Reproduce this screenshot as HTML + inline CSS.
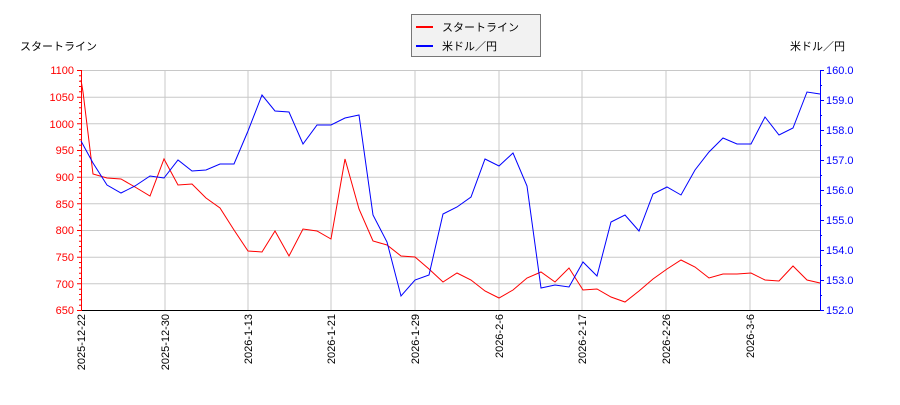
<!DOCTYPE html>
<html><head><meta charset="utf-8"><style>
body{margin:0;background:#fff}
text{font-family:"Liberation Sans","Noto Sans CJK JP",sans-serif;font-size:11px}
</style></head><body>
<svg width="900" height="400" xmlns="http://www.w3.org/2000/svg">
<rect width="900" height="400" fill="#fff"/>
<g stroke="#c8c8c8" stroke-width="1">
<line x1="81" y1="70.5" x2="820" y2="70.5"/><line x1="81" y1="97.2" x2="820" y2="97.2"/><line x1="81" y1="123.8" x2="820" y2="123.8"/><line x1="81" y1="150.5" x2="820" y2="150.5"/><line x1="81" y1="177.2" x2="820" y2="177.2"/><line x1="81" y1="203.8" x2="820" y2="203.8"/><line x1="81" y1="230.5" x2="820" y2="230.5"/><line x1="81" y1="257.2" x2="820" y2="257.2"/><line x1="81" y1="283.8" x2="820" y2="283.8"/>
<line x1="165" y1="70" x2="165" y2="310"/><line x1="248" y1="70" x2="248" y2="310"/><line x1="331" y1="70" x2="331" y2="310"/><line x1="415" y1="70" x2="415" y2="310"/><line x1="499" y1="70" x2="499" y2="310"/><line x1="582" y1="70" x2="582" y2="310"/><line x1="666" y1="70" x2="666" y2="310"/><line x1="750" y1="70" x2="750" y2="310"/>
</g>
<line x1="81" y1="310.5" x2="820" y2="310.5" stroke="#000"/>
<line x1="81.5" y1="70" x2="81.5" y2="311" stroke="red"/>
<line x1="820.5" y1="70" x2="820.5" y2="311" stroke="blue"/>
<g stroke="red">
<path d="M77 70.5h4M77 97.2h4M77 123.8h4M77 150.5h4M77 177.2h4M77 203.8h4M77 230.5h4M77 257.2h4M77 283.8h4M77 310.5h4"/>
<path d="M79 75.8h2M79 81.2h2M79 86.5h2M79 91.8h2M79 102.5h2M79 107.8h2M79 113.2h2M79 118.5h2M79 129.2h2M79 134.5h2M79 139.8h2M79 145.2h2M79 155.8h2M79 161.2h2M79 166.5h2M79 171.8h2M79 182.5h2M79 187.8h2M79 193.2h2M79 198.5h2M79 209.2h2M79 214.5h2M79 219.8h2M79 225.2h2M79 235.8h2M79 241.2h2M79 246.5h2M79 251.8h2M79 262.5h2M79 267.8h2M79 273.2h2M79 278.5h2M79 289.2h2M79 294.5h2M79 299.8h2M79 305.2h2"/>
</g>
<g stroke="blue">
<path d="M820 70.5h4M820 100.5h4M820 130.5h4M820 160.5h4M820 190.5h4M820 220.5h4M820 250.5h4M820 280.5h4M820 310.5h4"/>
<path d="M820 85.5h2M820 115.5h2M820 145.5h2M820 175.5h2M820 205.5h2M820 235.5h2M820 265.5h2M820 295.5h2"/>
</g>
<g fill="red" text-anchor="end">
<text x="74" y="74">1100</text><text x="74" y="101">1050</text><text x="74" y="128">1000</text><text x="74" y="154">950</text><text x="74" y="181">900</text><text x="74" y="208">850</text><text x="74" y="234">800</text><text x="74" y="261">750</text><text x="74" y="288">700</text><text x="74" y="314">650</text>
</g>
<g fill="blue">
<text x="826" y="74">160.0</text><text x="826" y="104">159.0</text><text x="826" y="134">158.0</text><text x="826" y="164">157.0</text><text x="826" y="194">156.0</text><text x="826" y="224">155.0</text><text x="826" y="254">154.0</text><text x="826" y="284">153.0</text><text x="826" y="314">152.0</text>
</g>
<g fill="#000" text-anchor="end" font-size="10">
<text transform="translate(85,314) rotate(-90)">2025-12-22</text>
<text transform="translate(169,314) rotate(-90)">2025-12-30</text>
<text transform="translate(252,314) rotate(-90)">2026-1-13</text>
<text transform="translate(335,314) rotate(-90)">2026-1-21</text>
<text transform="translate(419,314) rotate(-90)">2026-1-29</text>
<text transform="translate(503,314) rotate(-90)">2026-2-6</text>
<text transform="translate(586,314) rotate(-90)">2026-2-17</text>
<text transform="translate(670,314) rotate(-90)">2026-2-26</text>
<text transform="translate(754,314) rotate(-90)">2026-3-6</text>
</g>
<text x="20" y="50" fill="#000">スタートライン</text>
<text x="790" y="50" fill="#000">米ドル／円</text>
<rect x="411.5" y="14.5" width="129" height="42" fill="#f2f2f2" stroke="#777"/>
<line x1="416" y1="27" x2="433" y2="27" stroke="red" stroke-width="2"/>
<line x1="416" y1="46" x2="433" y2="46" stroke="blue" stroke-width="2"/>
<text x="442" y="31" font-size="12">スタートライン</text>
<text x="442" y="50" font-size="12">米ドル／円</text>
<polyline fill="none" stroke="red" stroke-width="1" points="81,80 83,92 93,174 107,178 121,179 135,187 150,196 164,159 178,185 192,184 206,198 220,208 234,230 248,251 262,252 275,231 289,256 303,229 317,231 331,239 345,159 359,209 373,241 387,245 401,256 415,257 429,269 443,282 457,273 471,280 485,291 499,298 513,290 527,278 541,272 555,282 569,268 583,290 597,289 611,297 625,302 639,291 653,279 667,269 681,260 695,267 709,278 723,274 737,274 751,273 765,280 779,281 793,266 807,280 820,283"/>
<polyline fill="none" stroke="blue" stroke-width="1" points="81,141 93,163 107,185 121,193 135,186 150,176 164,178 178,160 192,171 206,170 220,164 234,164 248,131 262,95 275,111 289,112 303,144 317,125 331,125 345,118 359,115 373,215 387,242 401,296 415,280 429,275 443,214 457,207 471,197 485,159 499,166 513,153 527,186 541,288 555,285 569,287 583,262 597,276 611,222 625,215 639,231 653,194 667,187 681,195 695,170 709,152 723,138 737,144 751,144 765,117 779,135 793,128 807,92 820,94"/>
</svg>
</body></html>
